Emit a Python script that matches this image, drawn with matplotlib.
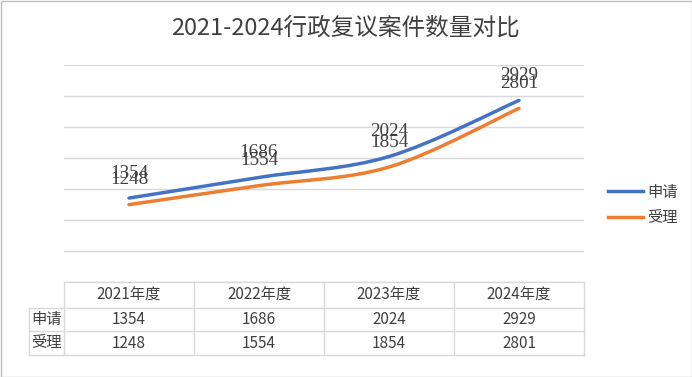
import numpy as np
import matplotlib.pyplot as plt
from matplotlib.path import Path
from matplotlib.patches import PathPatch, Rectangle
from matplotlib.lines import Line2D

plt.rcParams['font.family'] = ['Noto Sans CJK SC', 'DejaVu Sans']

title = '2021-2024行政复议案件数量对比'
years = ['2021年度', '2022年度', '2023年度', '2024年度']
series_names = ['申请', '受理']
shenqing = [1354, 1686, 2024, 2929]
shouli = [1248, 1554, 1854, 2801]
colors = ['#4472C4', '#ED7D31']
text_color = '#404040'
grid_color = '#D9D9D9'

fig = plt.figure(figsize=(6.92, 3.77), dpi=100)
W, H = 692.0, 377.0
ax = fig.add_axes([64 / W, 1 - 282 / H, 520 / W, 217 / H])
ax.set_xlim(-0.5, 3.5)
ax.set_ylim(0, 3500)
ax.set_yticks(np.arange(0, 3501, 500))
ax.yaxis.grid(True, color=grid_color, lw=1)
ax.set_axisbelow(True)
ax.tick_params(left=False, bottom=False, labelleft=False, labelbottom=False)
for s in ax.spines.values():
    s.set_visible(False)


def smooth_path(xs, ys):
    # excel-like smoothed line: bezier with catmull-rom control points
    pts = np.column_stack([xs, ys]).astype(float)
    n = len(pts)
    verts = [pts[0]]
    codes = [Path.MOVETO]
    for i in range(n - 1):
        p0 = pts[i - 1] if i > 0 else pts[i]
        p1 = pts[i]
        p2 = pts[i + 1]
        p3 = pts[i + 2] if i + 2 < n else pts[i + 1]
        c1 = p1 + (p2 - p0) / 6.0
        c2 = p2 - (p3 - p1) / 6.0
        verts += [c1, c2, p2]
        codes += [Path.CURVE4] * 3
    return Path(verts, codes)


x = np.arange(len(years))
for vals, c in zip([shenqing, shouli], colors):
    ax.add_patch(PathPatch(smooth_path(x, vals), fill=False, edgecolor=c,
                           lw=2.5, capstyle='round', zorder=3))
    for xi, v in zip(x, vals):
        ax.annotate(str(v), (xi, v), xytext=(0, 18), textcoords='offset points',
                    ha='center', va='center', fontsize=13.8, color=text_color,
                    family='Liberation Serif', zorder=4)

# data table under the plot
tr = ax.transAxes
y_hdr = -26 / 217
y_r1 = -49 / 217
y_r2 = -73 / 217
x_lab = -35 / 520
lk = dict(transform=tr, color=grid_color, lw=1, clip_on=False)
ax.add_line(Line2D([0, 1], [0, 0], **lk))
for yy in [y_hdr, y_r1, y_r2]:
    ax.add_line(Line2D([x_lab, 1], [yy, yy], **lk))
for xx in np.linspace(0, 1, len(years) + 1):
    ax.add_line(Line2D([xx, xx], [0, y_r2], **lk))
ax.add_line(Line2D([x_lab, x_lab], [y_hdr, y_r2], **lk))

tk = dict(ha='center', va='center', fontsize=11, color=text_color)
for i, yr in enumerate(years):
    ax.text(i, -13 / 217 * 3500, yr, **tk)
    ax.text(i, (y_hdr + y_r1) / 2 * 3500, str(shenqing[i]), **tk)
    ax.text(i, (y_r1 + y_r2) / 2 * 3500, str(shouli[i]), **tk)
for yy, name in zip([(y_hdr + y_r1) / 2, (y_r1 + y_r2) / 2], series_names):
    ax.text(x_lab + 2 / 520, yy, name, transform=tr, ha='left', va='center',
            fontsize=11, color=text_color)

# legend
handles = [Line2D([], [], color=c, lw=2.5) for c in colors]
fig.legend(handles, series_names, loc='center left',
           bbox_to_anchor=(594 / W, 1 - 205 / H), frameon=False,
           fontsize=11, handlelength=2.3, handletextpad=0.3,
           labelspacing=0.55, labelcolor=text_color)

fig.text(345 / W, 1 - 28 / H, title, ha='center', va='center', fontsize=17,
         color=text_color)

fig.patches.append(Rectangle((0.5 / W, 0.5 / H), 1 - 1 / W, 1 - 1 / H,
                             transform=fig.transFigure, fill=False,
                             edgecolor='#BFBFBF', lw=1))

fig.savefig('out.png', dpi=100)
